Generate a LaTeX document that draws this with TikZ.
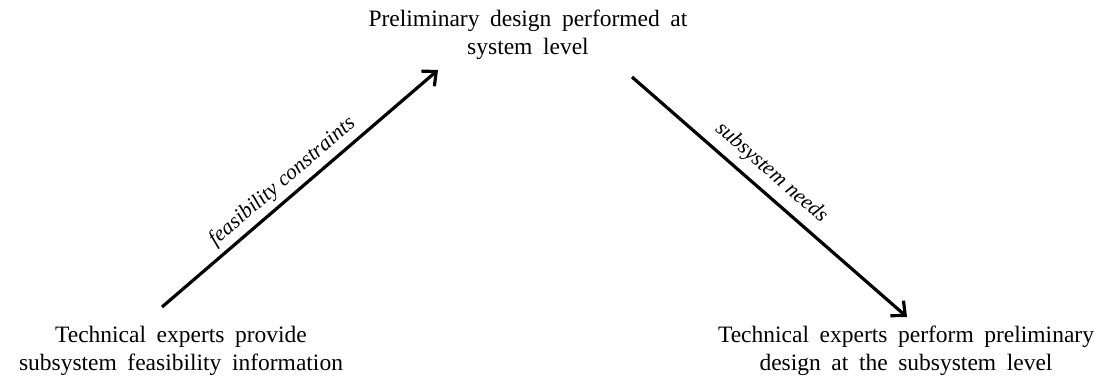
\documentclass[tikz,border=0pt]{standalone}
\usepackage{fontspec}
\setmainfont{Liberation Serif}[ItalicFont={Liberation Serif Italic}]
\usetikzlibrary{arrows.meta}
\newcommand\stagefont{\fontsize{23.5}{27.5}\selectfont\spaceskip=0.45em\relax}
\tikzset{
  stage/.style={align=center, inner sep=0pt, font={\stagefont}},
  flow/.style={line width=3.2pt, -{Straight Barb[length=11pt, width=20pt, line width=3.2pt]}},
  flowlabel/.style={sloped, inner sep=0pt, font=\fontsize{21.5}{24}\selectfont\itshape}
}
\begin{document}
\begin{tikzpicture}[x=1pt, y=-1pt]
  \useasboundingbox (0,0) rectangle (1110,377);
  \node[stage] (sys) at (528,35) {Preliminary design performed at\\system level};
  \node[stage] (feas) at (181,351) {Technical experts provide\\subsystem feasibility information};
  \node[stage] (sub) at (906,351) {Technical experts perform preliminary\\design at the subsystem level};
  \coordinate (a1s) at (162,307);
  \coordinate (a1e) at (438,70);
  \coordinate (a2s) at (632,77);
  \coordinate (a2e) at (907,317);
  \draw[flow] (a1s) -- node[flowlabel, pos=0.475, above=5pt] {feasibility constraints} (a1e);
  \draw[flow] (a2s) -- node[flowlabel, pos=0.46, above=8pt] {subsystem needs} (a2e);
\end{tikzpicture}
\end{document}
